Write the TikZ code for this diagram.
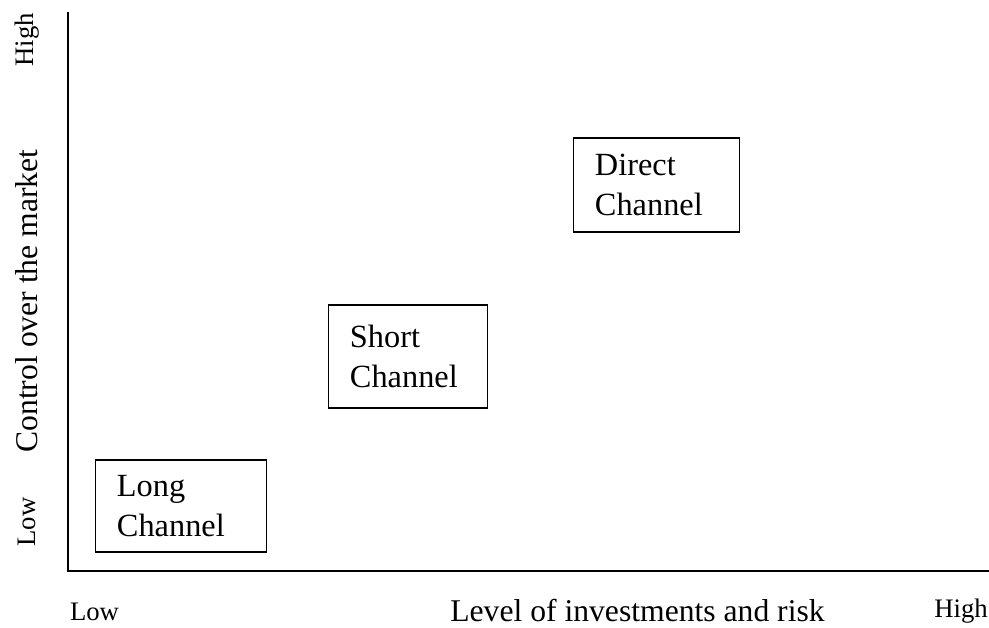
\documentclass[tikz,border=0pt]{standalone}
\usepackage{fontspec}
\setmainfont{Liberation Serif}
\begin{document}
\begin{tikzpicture}[x=0.025cm,y=-0.025cm]

\tikzset{channel/.style = {shape=rectangle,draw,line width=1pt,inner xsep=0.53cm,align=left,font=\fontsize{23}{28}\selectfont}}
\tikzset{axis/.style = {line width=1.3pt}}
\tikzset{scale label/.style = {font=\fontsize{19}{22}\selectfont}}
\tikzset{axis label/.style = {font=\fontsize{22.5}{26}\selectfont}}
\useasboundingbox (0,0) rectangle (989,628);
%axes
\coordinate (top) at (68,12);
\coordinate (origin) at (68,571);
\coordinate (right) at (989,571);
\draw[axis] (top) -- (origin) -- (right);
%channels
\node[channel, text width=3.2cm, minimum height=2.3cm] (long) at (181,506) {Long\\Channel};
\node[channel, text width=2.9cm, minimum height=2.575cm] (short) at (408,356.5) {Short\\Channel};
\node[channel, text width=3.075cm, minimum height=2.35cm] (direct) at (656.5,185) {Direct\\Channel};
%labels
\node[scale label] (xlow) at (94.5,612) {Low};
\node[axis label] (xname) at (637.5,611) {Level of investments and risk};
\node[scale label] (xhigh) at (961,611) {High};
\node[scale label, rotate=90] (ylow) at (27,522) {Low};
\node[axis label, rotate=90] (yname) at (27,301) {Control over the market};
\node[scale label, rotate=90] (yhigh) at (27,40) {High};

\end{tikzpicture}
\end{document}
